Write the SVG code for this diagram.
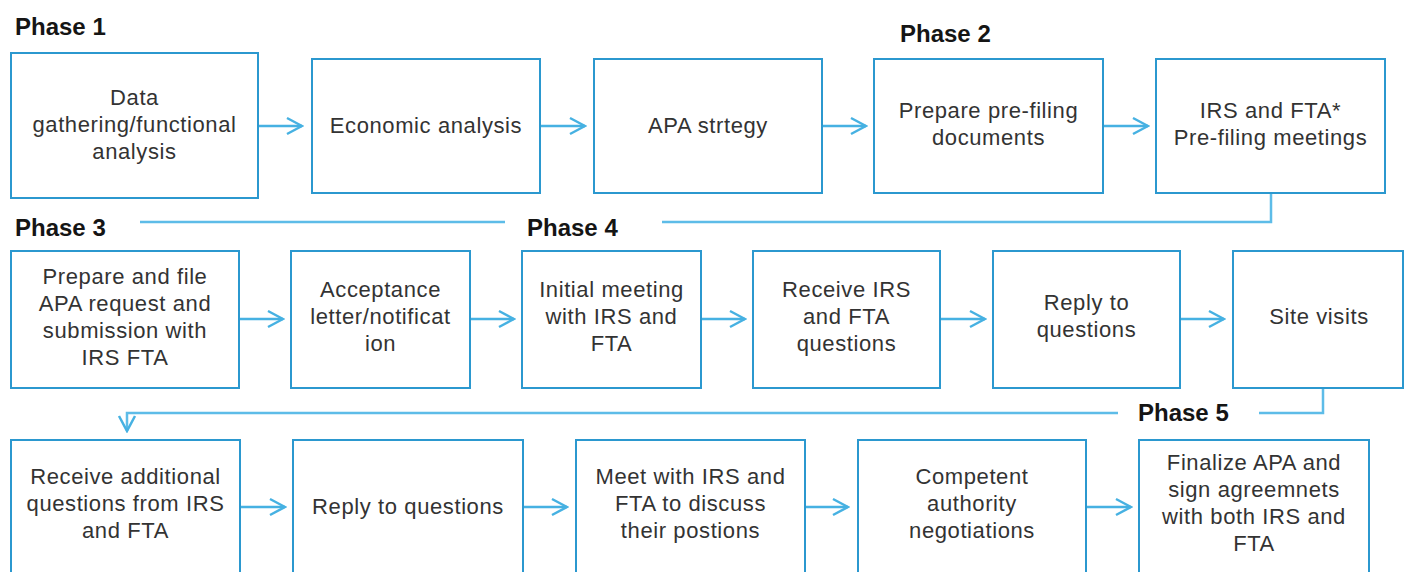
<svg xmlns="http://www.w3.org/2000/svg" width="1405" height="572" viewBox="0 0 1405 572">
  <style>
    .box { fill: #ffffff; stroke: #2b98cf; stroke-width: 2; }
    .lbl { font-family: "Liberation Sans", Arial, sans-serif; font-size: 22px; fill: #333333; text-anchor: middle; letter-spacing: 0.6px; }
    .phase { font-family: "Liberation Sans", Arial, sans-serif; font-size: 24px; font-weight: bold; fill: #151515; }
    .flow { fill: none; stroke: #46b1e2; stroke-width: 2.5; }
    .link { fill: none; stroke: #5dbce8; stroke-width: 2.5; }
  </style>
  <defs>
    <marker id="chev" viewBox="-18 -10 20 20" refX="0" refY="0" markerWidth="20" markerHeight="20" markerUnits="userSpaceOnUse" orient="auto">
      <path d="M-15,-8 L0,0 L-15,8" fill="none" stroke="#46b1e2" stroke-width="2.5"/>
    </marker>
  </defs>

  <rect width="1405" height="572" fill="#ffffff"/>

  <!-- phase headings -->
  <g id="phases">
    <text class="phase" x="15" y="35">Phase 1</text>
    <text class="phase" x="900" y="42">Phase 2</text>
    <text class="phase" x="15" y="236">Phase 3</text>
    <text class="phase" x="527" y="236">Phase 4</text>
    <text class="phase" x="1138" y="421">Phase 5</text>
  </g>

  <!-- connectors -->
  <g id="connectors">
    <!-- row 1 -->
    <path class="flow" d="M258,126 H302" marker-end="url(#chev)"/>
    <path class="flow" d="M540,126 H585" marker-end="url(#chev)"/>
    <path class="flow" d="M822,126 H866" marker-end="url(#chev)"/>
    <path class="flow" d="M1103,126 H1148" marker-end="url(#chev)"/>
    <!-- row 1 to row 2 -->
    <path class="link" d="M1271,193 V222 H662"/>
    <path class="link" d="M505,222 H140"/>
    <!-- row 2 -->
    <path class="flow" d="M239,319 H283" marker-end="url(#chev)"/>
    <path class="flow" d="M470,319 H514" marker-end="url(#chev)"/>
    <path class="flow" d="M701,319 H745" marker-end="url(#chev)"/>
    <path class="flow" d="M940,319 H985" marker-end="url(#chev)"/>
    <path class="flow" d="M1180,319 H1224" marker-end="url(#chev)"/>
    <!-- row 2 to row 3 -->
    <path class="link" d="M1323,388 V413 H1259"/>
    <path class="link" d="M1118,413 H127 V431" marker-end="url(#chev)"/>
    <!-- row 3 -->
    <path class="flow" d="M240,507 H285" marker-end="url(#chev)"/>
    <path class="flow" d="M523,507 H567" marker-end="url(#chev)"/>
    <path class="flow" d="M805,507 H848" marker-end="url(#chev)"/>
    <path class="flow" d="M1086,507 H1131" marker-end="url(#chev)"/>
  </g>

  <!-- row 1 -->
  <g id="data-gathering">
    <rect class="box" x="11" y="53" width="247" height="145"/>
    <text class="lbl" x="134.5" y="105">Data</text>
    <text class="lbl" x="134.5" y="132">gathering/functional</text>
    <text class="lbl" x="134.5" y="159">analysis</text>
  </g>
  <g id="economic-analysis">
    <rect class="box" x="312" y="59" width="228" height="134"/>
    <text class="lbl" x="426" y="133">Economic analysis</text>
  </g>
  <g id="apa-strategy">
    <rect class="box" x="594" y="59" width="228" height="134"/>
    <text class="lbl" x="708" y="133">APA strtegy</text>
  </g>
  <g id="prefiling-documents">
    <rect class="box" x="874" y="59" width="229" height="134"/>
    <text class="lbl" x="988.5" y="118">Prepare pre-filing</text>
    <text class="lbl" x="988.5" y="145">documents</text>
  </g>
  <g id="prefiling-meetings">
    <rect class="box" x="1156" y="59" width="229" height="134"/>
    <text class="lbl" x="1270.5" y="118">IRS and FTA*</text>
    <text class="lbl" x="1270.5" y="145">Pre-filing meetings</text>
  </g>

  <!-- row 2 -->
  <g id="file-request">
    <rect class="box" x="11" y="251" width="228" height="137"/>
    <text class="lbl" x="125" y="284">Prepare and file</text>
    <text class="lbl" x="125" y="311">APA request and</text>
    <text class="lbl" x="125" y="338">submission with</text>
    <text class="lbl" x="125" y="365">IRS FTA</text>
  </g>
  <g id="acceptance">
    <rect class="box" x="291" y="251" width="179" height="137"/>
    <text class="lbl" x="380.5" y="297">Acceptance</text>
    <text class="lbl" x="380.5" y="324">letter/notificat</text>
    <text class="lbl" x="380.5" y="351">ion</text>
  </g>
  <g id="initial-meeting">
    <rect class="box" x="522" y="251" width="179" height="137"/>
    <text class="lbl" x="611.5" y="297">Initial meeting</text>
    <text class="lbl" x="611.5" y="324">with IRS and</text>
    <text class="lbl" x="611.5" y="351">FTA</text>
  </g>
  <g id="receive-questions">
    <rect class="box" x="753" y="251" width="187" height="137"/>
    <text class="lbl" x="846.5" y="297">Receive IRS</text>
    <text class="lbl" x="846.5" y="324">and FTA</text>
    <text class="lbl" x="846.5" y="351">questions</text>
  </g>
  <g id="reply-questions">
    <rect class="box" x="993" y="251" width="187" height="137"/>
    <text class="lbl" x="1086.5" y="310">Reply to</text>
    <text class="lbl" x="1086.5" y="337">questions</text>
  </g>
  <g id="site-visits">
    <rect class="box" x="1233" y="251" width="170" height="137"/>
    <text class="lbl" x="1319" y="324">Site visits</text>
  </g>

  <!-- row 3 -->
  <g id="additional-questions">
    <rect class="box" x="11" y="440" width="229" height="150"/>
    <text class="lbl" x="125.5" y="484">Receive additional</text>
    <text class="lbl" x="125.5" y="511">questions from IRS</text>
    <text class="lbl" x="125.5" y="538">and FTA</text>
  </g>
  <g id="reply-additional">
    <rect class="box" x="293" y="440" width="230" height="150"/>
    <text class="lbl" x="408" y="514">Reply to questions</text>
  </g>
  <g id="discuss-positions">
    <rect class="box" x="576" y="440" width="229" height="150"/>
    <text class="lbl" x="690.5" y="484">Meet with IRS and</text>
    <text class="lbl" x="690.5" y="511">FTA to discuss</text>
    <text class="lbl" x="690.5" y="538">their postions</text>
  </g>
  <g id="competent-authority">
    <rect class="box" x="858" y="440" width="228" height="150"/>
    <text class="lbl" x="972" y="484">Competent</text>
    <text class="lbl" x="972" y="511">authority</text>
    <text class="lbl" x="972" y="538">negotiations</text>
  </g>
  <g id="finalize-apa">
    <rect class="box" x="1139" y="440" width="230" height="150"/>
    <text class="lbl" x="1254" y="470">Finalize APA and</text>
    <text class="lbl" x="1254" y="497">sign agreemnets</text>
    <text class="lbl" x="1254" y="524">with both IRS and</text>
    <text class="lbl" x="1254" y="551">FTA</text>
  </g>
</svg>
